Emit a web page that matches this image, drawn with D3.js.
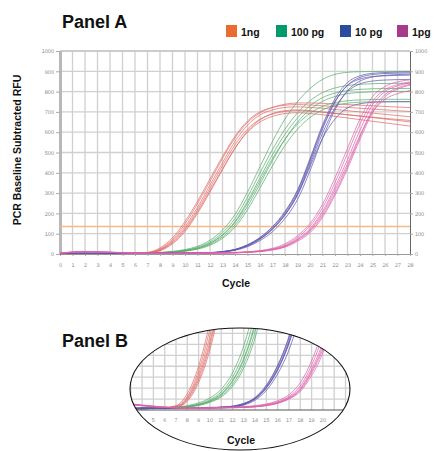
<!DOCTYPE html>
<html><head><meta charset="utf-8">
<script src="https://cdn.jsdelivr.net/npm/d3@7"></script>
<style>
html,body{margin:0;padding:0;background:#fff;}
svg{display:block;font-family:"Liberation Sans",Arial,Helvetica,sans-serif;}
</style></head><body>
<svg id="chart" width="434" height="451"></svg>
<script>
// ---------- data ----------
const cycles = [0,1,2,3,4,5,6,7,8,9,10,11,12,13,14,15,16,17,18,19,20,21,22,23,24,25,26,27,28];
const yTicks = [0,100,200,300,400,500,600,700,800,900,1000];
const zoomTicks = [5,6,7,8,9,10,11,12,13,14,15,16,17,18,19,20];
const threshold = 135;
const legendLabels = ["1ng","100 pg","10 pg","1pg"];
const legendColors = ["#ea6c30","#009a6c","#2b4c9c","#a83a8c"];
const curveColors  = ["#e06a66","#55ad6a","#5f58b0","#de62ac"];

// 1 ng replicates (RFU per cycle 0..28)
const rep1ng = [
 [3,2,3,2,3,4,5,8,30,80,160,260,370,480,580,655,700,722,733,736,734,730,726,722,718,714,710,706,702],
 [2,3,2,2,3,3,4,6,22,65,135,230,340,450,555,635,685,710,722,725,722,718,712,706,700,694,688,682,676],
 [2,2,3,2,2,3,3,5,16,50,110,200,305,415,520,605,660,692,706,710,706,700,693,686,679,672,665,658,651],
 [1,2,2,3,2,3,4,5,18,55,118,208,312,420,522,600,650,678,692,696,692,686,678,670,662,654,646,638,630],
 [2,3,3,2,3,4,4,7,25,72,148,248,358,470,572,648,695,722,738,744,744,742,739,736,733,730,727,724,721],
 [3,2,2,3,3,3,4,6,20,60,125,218,325,435,538,615,664,690,702,706,703,698,692,686,680,674,668,663,658]
];
// 100 pg replicates
const rep100pg = [
 [3,2,3,2,3,3,4,5,8,13,22,38,68,118,195,305,430,555,665,750,815,860,885,895,898,899,900,900,900],
 [2,3,2,3,2,3,3,4,7,11,19,33,60,105,175,280,400,515,615,695,755,795,818,830,836,839,840,841,841],
 [2,2,3,2,3,3,4,5,6,10,17,30,54,95,160,260,375,490,590,670,730,770,793,805,811,814,815,815,816],
 [3,2,2,3,2,3,3,4,6,9,15,26,47,84,143,235,345,460,565,650,712,752,776,790,796,799,800,801,801],
 [2,3,3,2,3,3,4,4,6,10,16,28,52,92,155,250,360,470,565,640,693,727,746,755,759,761,762,762,762],
 [2,2,3,3,2,3,3,4,5,8,14,24,43,77,132,218,325,435,535,615,672,710,732,743,748,750,751,751,751]
];
// 10 pg replicates
const rep10pg = [
 [3,4,3,3,4,3,3,3,4,4,5,5,7,12,23,46,82,135,210,315,470,635,765,845,878,890,894,896,897],
 [2,3,4,3,3,3,3,3,3,4,4,5,6,11,21,42,76,126,198,300,452,615,748,832,870,884,889,891,892],
 [3,3,3,4,3,3,3,3,3,3,4,4,5,9,18,36,66,110,175,268,410,570,710,805,852,872,880,884,886],
 [2,3,3,3,4,3,3,3,3,4,4,5,6,10,20,40,73,122,192,292,440,595,720,800,838,852,857,859,860],
 [3,3,4,3,3,4,3,3,3,4,4,5,6,11,21,41,74,123,193,290,430,570,665,720,740,747,749,750,750],
 [2,4,3,3,3,3,3,3,3,4,4,5,7,12,22,44,80,132,205,310,462,625,752,830,862,874,878,880,881]
];
// 1 pg replicates
const rep1pg = [
 [4,9,12,11,9,7,5,4,4,4,4,5,5,6,8,11,17,28,50,90,150,245,375,520,665,775,825,848,858],
 [5,10,12,10,8,6,5,4,3,3,4,4,5,5,6,9,14,23,40,75,125,210,330,465,610,735,800,828,843],
 [4,8,11,10,8,6,5,4,3,3,3,4,4,5,6,8,12,20,34,63,105,180,290,420,565,695,775,812,832],
 [5,9,11,10,8,7,5,4,4,3,4,4,5,5,6,9,13,22,38,71,118,200,315,445,585,700,762,790,805],
 [4,10,13,11,9,7,5,4,4,4,4,4,5,6,7,10,15,25,44,82,138,228,352,495,640,752,810,834,848],
 [5,9,12,10,8,6,5,4,3,3,3,4,4,5,6,8,13,21,36,68,112,190,300,432,578,710,785,818,836]
];
const groups = [rep1ng, rep100pg, rep10pg, rep1pg];

// ---------- drawing ----------
const svg = d3.select("#chart");
const gridColor = "#d0d0d0";

// Panel A scales
const x = d3.scaleLinear().domain([0,28]).range([60,410]);
const y = d3.scaleLinear().domain([0,1000]).range([254,51]);

svg.append("text").attr("x",62).attr("y",28).attr("font-size",18).attr("font-weight","bold")
  .attr("fill","#111").text("Panel A");

// legend
const leg = svg.append("g");
const legX = [226,276,340,397];
legendLabels.forEach((l,i)=>{
  leg.append("rect").attr("x",legX[i]).attr("y",25).attr("width",11).attr("height",12).attr("fill",legendColors[i]);
  leg.append("text").attr("x",legX[i]+15).attr("y",36).attr("font-size",10.5).attr("font-weight","bold")
    .attr("fill","#111").text(l);
});

// grid A
const gA = svg.append("g");
gA.selectAll("line.v").data(cycles.filter(c=>c>0&&c<28)).join("line")
  .attr("x1",d=>x(d)).attr("x2",d=>x(d)).attr("y1",y(1000)).attr("y2",y(0))
  .attr("stroke",gridColor).attr("stroke-width",1.3);
gA.selectAll("line.h").data(yTicks.filter(t=>t>0)).join("line")
  .attr("x1",x(0)).attr("x2",x(28)).attr("y1",d=>y(d)).attr("y2",d=>y(d))
  .attr("stroke",gridColor).attr("stroke-width",1.3);

// axes A
const fmt = d3.format("d");
const axL = svg.append("g").attr("transform",`translate(${x(0)},0)`)
  .call(d3.axisLeft(y).tickValues(yTicks).tickFormat(fmt).tickSize(4).tickSizeOuter(0).tickPadding(2));
const axR = svg.append("g").attr("transform",`translate(${x(28)},0)`)
  .call(d3.axisRight(y).tickValues(yTicks).tickFormat(fmt).tickSize(3).tickSizeOuter(0).tickPadding(2));
const axB = svg.append("g").attr("transform",`translate(0,${y(0)})`)
  .call(d3.axisBottom(x).tickValues(cycles).tickFormat(fmt).tickSize(2).tickSizeOuter(0).tickPadding(7));
[axL,axR,axB].forEach(a=>{
  a.selectAll("text").attr("font-size",5.5).attr("fill","#8a8a8a")
    .attr("font-family","Liberation Sans, Arial, sans-serif").style("text-rendering","geometricPrecision");
  a.selectAll(".tick line").attr("stroke","#aaa");
});
axL.select(".domain").attr("stroke","#b8b8b8").attr("stroke-width",3);
axR.select(".domain").attr("stroke","#666").attr("stroke-width",1);
axB.select(".domain").attr("stroke","#999").attr("stroke-width",1);
svg.append("line").attr("x1",x(0)).attr("x2",x(28)).attr("y1",y(1000)).attr("y2",y(1000))
  .attr("stroke","#bbb").attr("stroke-width",1.2);

// threshold
svg.append("line").attr("x1",x(0)).attr("x2",x(28)).attr("y1",y(threshold)).attr("y2",y(threshold))
  .attr("stroke","#f6b888").attr("stroke-width",1.5);

// curves A
const lineA = d3.line().x((d,i)=>x(cycles[i])).y(d=>y(d)).curve(d3.curveMonotoneX);
const curvesA = svg.append("g");
groups.forEach((g,gi)=>{
  curvesA.selectAll(null).data(g).join("path").attr("d",lineA)
    .attr("fill","none").attr("stroke",curveColors[gi]).attr("stroke-width",0.9).attr("opacity",0.8);
});

// axis titles A
svg.append("text").attr("transform",`translate(21,150) rotate(-90)`).attr("text-anchor","middle")
  .attr("font-size",10.5).attr("font-weight","bold").attr("fill","#111").text("PCR Baseline Subtracted RFU");
svg.append("text").attr("x",236).attr("y",287).attr("text-anchor","middle")
  .attr("font-size",10.5).attr("font-weight","bold").attr("fill","#111").text("Cycle");

// ---------- Panel B ----------
svg.append("text").attr("x",62).attr("y",347).attr("font-size",18).attr("font-weight","bold")
  .attr("fill","#111").text("Panel B");

const ell = {cx:240, cy:389, rx:110, ry:61};
const defs = svg.append("defs");
defs.append("clipPath").attr("id","ellClip").append("ellipse")
  .attr("cx",ell.cx).attr("cy",ell.cy).attr("rx",ell.rx).attr("ry",ell.ry);
defs.append("clipPath").attr("id","aboveBase").append("rect")
  .attr("x",0).attr("y",0).attr("width",434).attr("height",410.5);

const xb = d3.scaleLinear().domain([5,20]).range([153.4,322.9]);
const yb = d3.scaleLinear().domain([0,150]).range([410,328]);
const bGridY = [20,40,60,80,100,120,140,160];

const gB = svg.append("g").attr("clip-path","url(#ellClip)");
const gBin = gB.append("g").attr("clip-path","url(#aboveBase)");
gBin.selectAll("line.v").data(cycles).join("line")
  .attr("x1",d=>xb(d)).attr("x2",d=>xb(d)).attr("y1",300).attr("y2",yb(0))
  .attr("stroke",gridColor).attr("stroke-width",1.3);
gBin.selectAll("line.h").data(bGridY).join("line")
  .attr("x1",100).attr("x2",380).attr("y1",d=>yb(d)).attr("y2",d=>yb(d))
  .attr("stroke",gridColor).attr("stroke-width",1.3);
gB.append("line").attr("x1",100).attr("x2",380).attr("y1",yb(0)).attr("y2",yb(0))
  .attr("stroke","#555").attr("stroke-width",1);
const lineB = d3.line().x((d,i)=>xb(cycles[i])).y(d=>yb(d)).curve(d3.curveMonotoneX);
groups.forEach((g,gi)=>{
  gBin.selectAll(null).data(g).join("path").attr("d",lineB)
    .attr("fill","none").attr("stroke",curveColors[gi]).attr("stroke-width",0.9).attr("opacity",0.8);
});
gB.selectAll("text.zt").data(zoomTicks).join("text")
  .attr("x",d=>xb(d)).attr("y",422).attr("text-anchor","middle")
  .attr("font-size",5.5).attr("fill","#8a8a8a").style("text-rendering","geometricPrecision").text(d=>d);
svg.append("ellipse").attr("cx",ell.cx).attr("cy",ell.cy).attr("rx",ell.rx).attr("ry",ell.ry)
  .attr("fill","none").attr("stroke","#111").attr("stroke-width",1.1);
svg.append("text").attr("x",241).attr("y",444).attr("text-anchor","middle")
  .attr("font-size",10.5).attr("font-weight","bold").attr("fill","#111").text("Cycle");
</script>
</body></html>
